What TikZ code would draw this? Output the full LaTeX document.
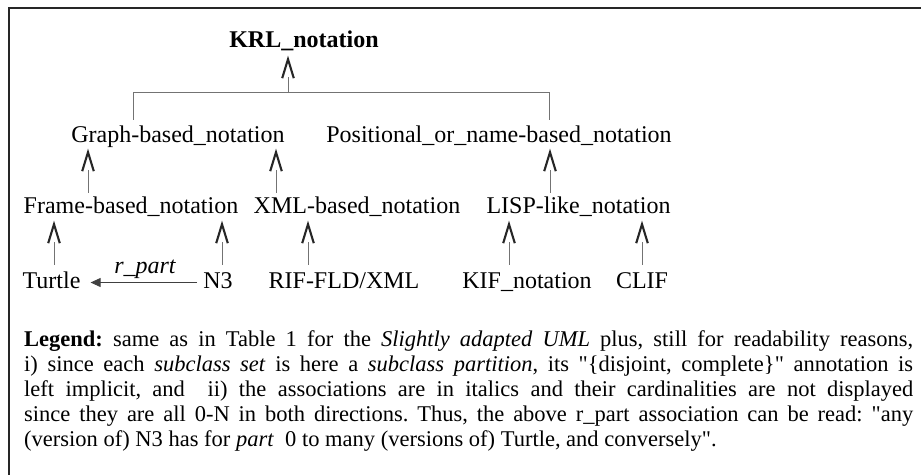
\documentclass[tikz,border=0pt]{standalone}
\usepackage{fontspec}
\setmainfont{Liberation Serif}
\newfontfamily\plainserif{Liberation Serif}
\usetikzlibrary{arrows.meta,calc}
\pgfdeclarearrow{
  name = GenV,
  setup code = {
    \pgfarrowssettipend{0pt}
    \pgfarrowssetlineend{-20pt}
    \pgfarrowssetbackend{-21pt}
    \pgfarrowsupperhullpoint{0pt}{0pt}
    \pgfarrowsupperhullpoint{-21pt}{6pt}
  },
  drawing code = {
    \pgfsetdash{}{0pt}
    \pgfsetlinewidth{2.1pt}
    \pgfsetstrokecolor{black!85}
    \pgfsetmiterjoin
    \pgfpathmoveto{\pgfqpoint{-21pt}{5.8pt}}
    \pgfpathlineto{\pgfqpoint{-2pt}{0pt}}
    \pgfpathlineto{\pgfqpoint{-21pt}{-5.8pt}}
    \pgfusepathqstroke
  },
}
\begin{document}
\begin{tikzpicture}[x=1pt,y=-1pt,
  cls/.style={inner sep=0pt,anchor=base,font=\fontsize{24}{28}\selectfont,text height=16pt,text depth=5pt},
  gen/.style={draw=black!55,line width=0.8pt,-{GenV}},
  tree/.style={draw=black!55,line width=0.9pt},
  assoc/.style={draw=black!75,line width=0.8pt,-{Triangle[length=10pt,width=9pt]}}]
\useasboundingbox (0,0) rectangle (921,475);
\draw[line width=2pt,black!85] (8,8) -- (921,8);
\draw[line width=1.3pt,black!85] (9,8) -- (9,475);

\node[cls,font=\bfseries\fontsize{24}{28}\selectfont] (krl) at (304,47) {KRL\_notation};
\node[cls] (graph) at (178,142) {Graph-based\_notation};
\node[cls] (pos) at (499,142) {Positional\_or\_name-based\_notation};
\node[cls] (frame) at (131,213) {Frame-based\_notation};
\node[cls] (xml) at (357,213) {XML-based\_notation};
\node[cls] (lisp) at (578.5,213) {LISP-like\_notation};
\node[cls] (turtle) at (51.5,288) {Turtle};
\node[cls] (n3) at (218,288) {N3};
\node[cls] (rif) at (344,288) {RIF-FLD/XML};
\node[cls] (kif) at (527,288) {KIF\_notation};
\node[cls] (clif) at (642,288) {CLIF};

% tree under KRL_notation
\draw[tree] ($(graph.north)+(-45,-6)$) -- ($(graph.north)+(-45,-33)$) -| ($(pos.north)+(50,-6)$);
\draw[gen] ($(krl.south)+(-16,41)$) -- ($(krl.south)+(-16,5)$);

% row 2 -> row 1
\draw[gen] ($(frame.north)+(-43,-4)$) -- ($(graph.south -| frame.north)+(-43,3)$);
\draw[gen] ($(xml.north)+(-81,-4)$) -- ($(graph.south -| xml.north)+(-81,3)$);
\draw[gen] ($(lisp.north)+(-28.5,-4)$) -- ($(pos.south -| lisp.north)+(-28.5,3)$);

% row 3 -> row 2
\draw[gen] ($(turtle.north)+(2.5,-7)$) -- ($(frame.south -| turtle.north)+(2.5,4)$);
\draw[gen] ($(n3.north)+(4,-7)$) -- ($(frame.south -| n3.north)+(4,4)$);
\draw[gen] ($(rif.north)+(-36,-7)$) -- ($(xml.south -| rif.north)+(-36,4)$);
\draw[gen] ($(kif.north)+(-18,-7)$) -- ($(lisp.south -| kif.north)+(-18,4)$);
\draw[gen] ($(clif.north)+(0,-7)$) -- ($(lisp.south -| clif.north)+(0,4)$);

% association
\draw[assoc] ([xshift=-6pt]n3.west) -- ([xshift=10pt]turtle.east);
\node[cls,font=\itshape\fontsize{24}{28}\selectfont] (rpart) at (145,273) {r\_part};

% legend
\node[inner sep=0pt,anchor=base west] (legend) at (24,346) {\parbox[t]{889pt}{\fontsize{22.5}{25}\selectfont\parindent=0pt\frenchspacing
\textbf{Legend:} same as in Table 1 for the \textit{Slightly adapted UML} plus, still for readability reasons,\linebreak
i) since each \textit{subclass set} is here a \textit{subclass partition}, its {\plainserif"}\{disjoint, complete\}{\plainserif"} annotation is\linebreak
left implicit, and~ ii) the associations are in italics and their cardinalities are not displayed\linebreak
since they are all 0-N in both directions. Thus, the above r\_part association can be read: {\plainserif"}any\linebreak
(version of) N3 has for \textit{part}~ 0 to many (versions of) Turtle, and conversely{\plainserif"}.}};
\end{tikzpicture}
\end{document}
